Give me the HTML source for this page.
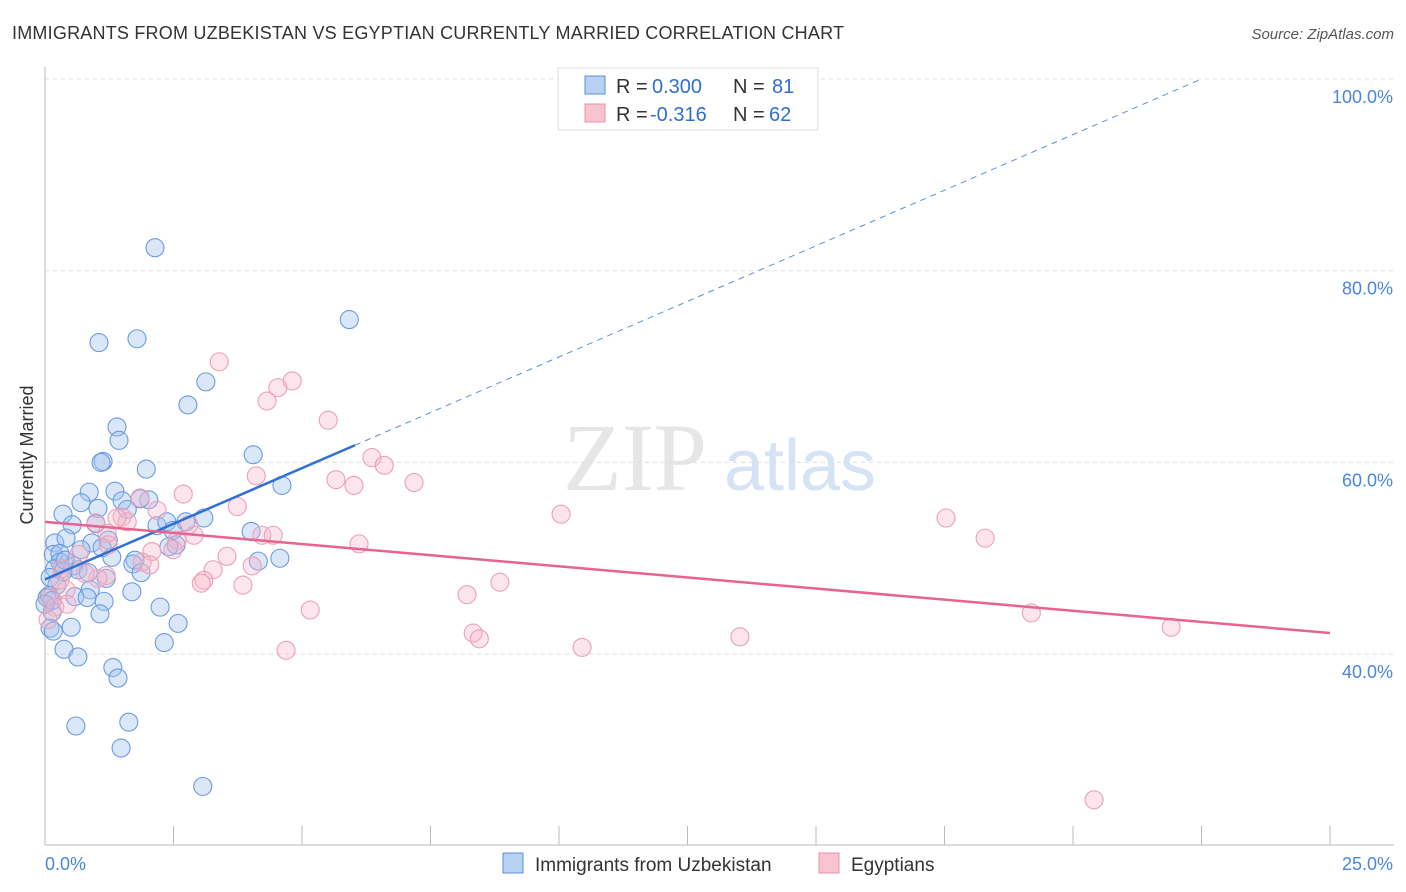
<!DOCTYPE html>
<html><head><meta charset="utf-8"><style>
body{margin:0;background:#fff;font-family:"Liberation Sans",sans-serif;}
svg{display:block}
</style></head><body>
<svg id="c" width="1406" height="892">
<text x="12" y="39" font-size="18" fill="#333" textLength="832">IMMIGRANTS FROM UZBEKISTAN VS EGYPTIAN CURRENTLY MARRIED CORRELATION CHART</text>
<text x="1394" y="39" font-size="15" fill="#555" font-style="italic" text-anchor="end">Source: ZipAtlas.com</text>
<text x="33" y="455" font-size="18" fill="#333" transform="rotate(-90 33 455)" text-anchor="middle">Currently Married</text>
<g><text x="635" y="490" font-size="96" fill="#e6e6e6" font-family="Liberation Serif" text-anchor="middle">ZIP</text><text x="800" y="490" font-size="72" fill="#d5e3f5" text-anchor="middle">atlas</text></g>
<g id="grid"></g><g id="marks"></g>
<g>
<rect x="558" y="68" width="260" height="62" fill="#fff" stroke="#ddd"/>
<rect x="585" y="76" width="20" height="18" fill="#b8d2f3" stroke="#5b8fd8"/>
<rect x="585" y="104" width="20" height="18" fill="#f8c4d2" stroke="#e890aa"/>
<text x="616" y="93" font-size="20" fill="#333">R =</text><text x="652" y="93" font-size="20" fill="#2f6fd0">0.300</text>
<text x="733" y="93" font-size="20" fill="#333">N =</text><text x="772" y="93" font-size="20" fill="#2f6fd0">81</text>
<text x="616" y="121" font-size="20" fill="#333">R =</text><text x="650" y="121" font-size="20" fill="#2f6fd0">-0.316</text>
<text x="733" y="121" font-size="20" fill="#333">N =</text><text x="769" y="121" font-size="20" fill="#2f6fd0">62</text>
</g>
<g>
<rect x="503" y="853" width="20" height="20" fill="#b8d2f3" stroke="#5b8fd8"/>
<text x="535" y="871" font-size="19" fill="#333">Immigrants from Uzbekistan</text>
<rect x="819" y="853" width="20" height="20" fill="#f8c4d2" stroke="#e890aa"/>
<text x="851" y="871" font-size="19" fill="#333">Egyptians</text>
</g>
</svg>
<script>
const yTicks=[100,80,60,40];
const xTickLabels=["0.0%","25.0%"];
const blueX=[2.14,5.92,1.05,1.79,3.13,2.78,1.40,1.44,1.13,1.09,1.97,4.05,4.61,0.86,1.36,0.70,1.50,2.02,1.85,1.03,1.60,0.35,3.09,0.53,0.99,2.18,2.37,2.74,0.19,0.41,0.91,1.23,0.16,0.29,0.70,1.11,4.01,2.49,2.55,2.41,1.30,1.75,1.71,0.29,0.56,0.64,0.19,0.35,0.84,1.19,1.87,4.15,4.57,0.10,0.23,0.88,0.08,0.58,0.82,1.15,1.69,2.24,1.07,0.14,0.51,2.59,0.10,0.16,0.37,0.64,2.32,1.32,1.42,0.60,1.63,1.48,3.07,0.04,0.14,0.39,0.0];
const blueY=[82.4,74.9,72.5,72.9,68.4,66.0,63.7,62.3,60.1,60.0,59.3,60.8,57.6,56.9,57.0,55.8,56.0,56.1,56.2,55.2,55.1,54.6,54.2,53.5,53.6,53.4,53.8,53.8,51.6,52.1,51.6,51.9,50.4,50.5,50.9,51.1,52.8,52.9,51.4,51.2,50.1,49.8,49.4,49.6,49.2,48.8,48.9,48.6,48.5,47.9,48.5,49.7,50.0,48.0,47.2,46.7,46.1,46.0,45.9,45.5,46.5,44.9,44.2,44.4,42.8,43.2,42.7,42.4,40.5,39.7,41.2,38.6,37.5,32.5,32.9,30.2,26.2,45.9,45.6,49.8,45.2];
const pinkX=[3.39,4.81,4.53,4.32,5.51,6.36,6.60,4.11,5.66,6.01,7.18,2.69,1.85,3.74,2.18,1.50,0.99,1.60,1.40,2.80,1.21,2.57,2.90,4.22,4.44,6.11,2.49,2.08,0.66,1.23,3.54,1.89,4.03,3.27,1.19,1.03,3.09,3.04,3.85,0.29,0.41,5.16,8.21,8.85,8.33,8.45,10.45,10.04,13.52,17.53,18.29,19.19,21.91,20.41,4.69,0.10,0.19,0.06,0.43,0.33,0.78,2.04];
const pinkY=[70.5,68.5,67.8,66.4,64.4,60.5,59.7,58.6,58.2,57.6,57.9,56.7,56.3,55.4,55.0,54.3,53.7,53.8,54.2,53.5,52.6,51.9,52.4,52.4,52.4,51.5,50.9,50.7,50.4,51.4,50.2,49.6,49.2,48.8,48.2,47.9,47.7,47.4,47.2,47.7,46.7,44.6,46.2,47.5,42.2,41.6,40.7,54.6,41.8,54.2,52.1,44.3,42.8,24.8,40.4,45.9,44.9,43.6,45.2,48.9,48.4,49.3];
const blueTrend=[47.8,2.32];
const pinkTrend=[53.8,-0.464];
const X=v=>45+v*51.4, Y=v=>79+(100-v)*9.585;
const NS="http://www.w3.org/2000/svg";
function mk(t,a,p){const e=document.createElementNS(NS,t);for(const k in a)e.setAttribute(k,a[k]);p.appendChild(e);return e;}
const g=document.getElementById('grid'), m=document.getElementById('marks');
yTicks.forEach(t=>{
  const l=mk('line',{x1:45,x2:1394,y1:Y(t),y2:Y(t),stroke:'#ddd','stroke-dasharray':'4,4'},g);
  
  
  const tx=mk('text',{x:1393,y:Y(t)+24,'font-size':18,fill:'#4a86e0','text-anchor':'end'},g);tx.textContent=t.toFixed(1)+'%';
  
  
});
mk('line',{x1:45,x2:45,y1:67,y2:845,stroke:'#bbb'},g);
mk('line',{x1:45,x2:1394,y1:845,y2:845,stroke:'#bbb'},g);
for(let i=0;i<=10;i++){mk('line',{x1:X(i*2.5),x2:X(i*2.5),y1:826,y2:845,stroke:'#bbb'},g);}
xTickLabels.forEach((s,i)=>{const tx=mk('text',{x:i?1393:45,y:870,'font-size':18,fill:'#4a86e0','text-anchor':i?'end':'start'},g);tx.textContent=s;
  
  });
blueX.forEach((x,i)=>{const c=mk('circle',{cx:X(x),cy:Y(blueY[i]),r:9,fill:'rgba(160,196,240,0.4)',stroke:'#6b9be0','stroke-width':1.1},m);
  
  });
pinkX.forEach((x,i)=>{const c=mk('circle',{cx:X(x),cy:Y(pinkY[i]),r:9,fill:'rgba(245,180,200,0.35)',stroke:'#eda0b7','stroke-width':1.1},m);
  
  });
const bMax=6.03, bEnd=(100-blueTrend[0])/blueTrend[1];
let l=mk('line',{x1:X(0),y1:Y(blueTrend[0]),x2:X(bMax),y2:Y(blueTrend[0]+blueTrend[1]*bMax),stroke:'#2f6fd6','stroke-width':2.5},m);


l=mk('line',{x1:X(bMax),y1:Y(blueTrend[0]+blueTrend[1]*bMax),x2:X(bEnd),y2:Y(100),stroke:'#5b8fd8','stroke-width':1,'stroke-dasharray':'6,5'},m);


l=mk('line',{x1:X(0),y1:Y(pinkTrend[0]),x2:X(25),y2:Y(pinkTrend[0]+pinkTrend[1]*25),stroke:'#e8648e','stroke-width':2.5},m);


</script>
</body></html>
